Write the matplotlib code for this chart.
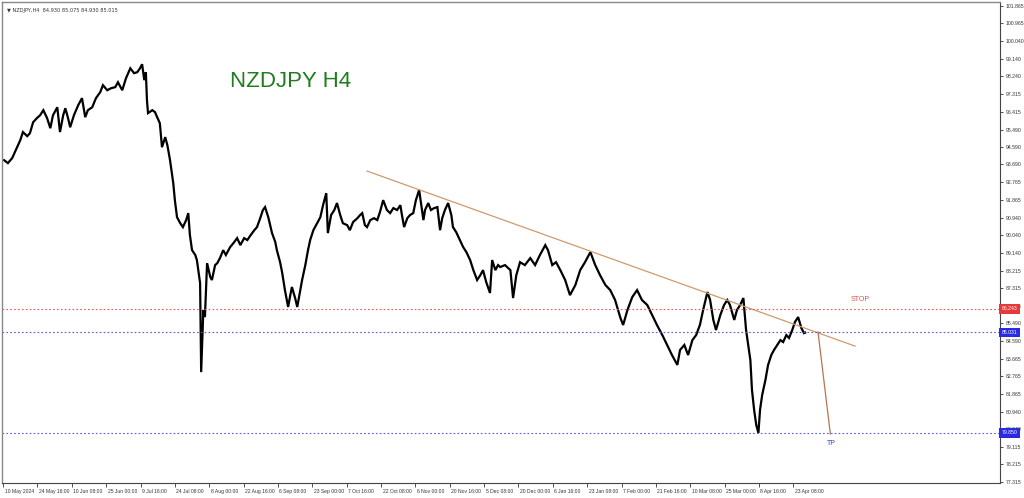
import matplotlib
matplotlib.use('Agg')
import matplotlib.pyplot as plt
import matplotlib.transforms as mtransforms

plt.rcParams['font.family'] = ['Liberation Sans', 'DejaVu Sans']

# H4 bar index (0 = 10 May 2024 00:00) and price
bars = [2, 9, 17, 26, 32, 37, 45, 50, 56, 63, 69, 75, 82, 88, 93, 101, 106, 112, 116, 121,
        125, 132, 140, 147, 153, 158, 166, 173, 181, 186, 194, 201, 209, 214, 222, 229, 237, 244, 250, 255,
        259, 263, 266, 268, 270, 278, 283, 287, 292, 296, 302, 306, 311, 317, 320, 324, 330, 335, 341, 345,
        348, 352, 358, 361, 365, 367, 369, 373, 376, 380, 386, 389, 395, 399, 404, 410, 415, 423, 429, 436,
        442, 449, 455, 460, 468, 473, 479, 484, 488, 494, 501, 507, 510, 516, 520, 525, 531, 535, 538, 544,
        548, 553, 557, 563, 568, 572, 578, 583, 591, 596, 602, 605, 611, 617, 622, 628, 633, 641, 646, 652,
        660, 665, 669, 674, 678, 684, 691, 697, 702, 708, 715, 721, 727, 734, 740, 743, 747, 753, 758, 764,
        769, 775, 779, 783, 786, 792, 797, 803, 809, 814, 818, 823, 829, 835, 838, 844, 851, 857, 863, 870,
        876, 883, 889, 894, 900, 907, 911, 917, 922, 926, 935, 945, 950, 956, 963, 972, 982, 991, 1000, 1010,
        1015, 1023, 1030, 1038, 1047, 1056, 1066, 1075, 1084, 1094, 1103, 1112, 1122, 1131, 1140, 1150, 1155, 1163, 1172, 1181,
        1190, 1200, 1209, 1218, 1228, 1237, 1246, 1256, 1261, 1269, 1276, 1284, 1291, 1298, 1304, 1312, 1317, 1323, 1328, 1336,
        1343, 1349, 1354, 1362, 1367, 1373, 1379, 1384, 1388, 1392, 1395, 1399, 1403, 1407, 1410, 1414, 1420, 1425, 1431, 1436,
        1442, 1448, 1453, 1459, 1464, 1470, 1475, 1481, 1487, 1492, 1494]
price = [93.91, 93.76, 94.02, 94.58, 94.94, 95.36, 95.15, 95.30, 95.87, 96.08, 96.23, 96.49, 96.08, 95.56, 96.23, 96.64, 95.36, 96.23, 96.59, 96.08,
         95.61, 96.23, 96.75, 97.11, 96.13, 96.49, 96.64, 97.11, 97.42, 97.78, 97.52, 97.62, 97.68, 97.93, 97.52, 98.14, 98.65, 98.40, 98.45, 98.65,
         98.86, 98.04, 98.45, 97.01, 96.34, 96.49, 96.39, 96.13, 95.82, 94.58, 95.10, 94.69, 93.91, 92.73, 91.85, 90.97, 90.66, 90.46, 90.82, 91.18,
         90.05, 89.27, 89.02, 88.76, 87.98, 87.57, 82.98, 86.18, 85.82, 88.60, 87.88, 87.73, 88.50, 88.60, 88.86, 89.27, 89.02, 89.43, 89.63, 89.89,
         89.53, 89.89, 89.79, 90.00, 90.30, 90.46, 90.92, 91.34, 91.49, 90.97, 90.15, 89.69, 89.27, 88.65, 88.09, 87.21, 86.34, 86.95, 87.37, 86.80,
         86.34, 87.11, 87.73, 88.50, 89.27, 89.79, 90.30, 90.56, 90.97, 91.59, 92.21, 90.15, 91.08, 91.34, 91.70, 91.08, 90.66, 90.56, 90.30, 90.72,
         90.92, 91.08, 91.18, 90.56, 90.46, 90.82, 90.92, 90.82, 91.23, 91.85, 91.34, 91.18, 91.44, 91.34, 91.59, 91.08, 90.46, 90.92, 91.08, 91.18,
         91.85, 92.37, 91.59, 90.82, 91.34, 91.70, 91.34, 91.44, 91.49, 90.30, 90.92, 91.34, 91.70, 91.08, 90.46, 90.20, 89.79, 89.43, 89.17, 88.76,
         88.24, 87.73, 87.98, 88.24, 87.62, 87.06, 88.76, 88.24, 88.50, 88.40, 88.50, 88.24, 86.80, 87.98, 88.65, 88.50, 88.86, 88.50, 89.02, 89.53,
         89.27, 88.50, 88.65, 88.24, 87.73, 86.95, 87.47, 88.24, 88.65, 89.17, 88.50, 87.98, 87.47, 87.21, 86.70, 85.77, 85.41, 86.18, 86.85, 87.21,
         86.70, 86.44, 85.92, 85.41, 84.89, 84.38, 83.86, 83.35, 84.12, 84.38, 83.86, 84.63, 84.89, 85.41, 86.18, 87.11, 86.70, 85.67, 85.15, 85.92,
         86.44, 86.70, 86.44, 85.67, 86.18, 86.44, 86.80, 85.15, 84.38, 83.60, 82.06, 81.03, 80.25, 79.84, 81.03, 81.80, 82.57, 83.35, 83.86, 84.12,
         84.38, 84.63, 84.53, 84.89, 84.74, 85.15, 85.56, 85.82, 85.25, 84.99, 85.015]

# price axis levels
y_ticks = [101.865, 100.965, 100.040, 99.140, 98.240, 97.315, 96.415, 95.490, 94.590, 93.690,
           92.765, 91.865, 90.940, 90.040, 89.140, 88.215, 87.315, 86.415, 85.490, 84.590,
           83.665, 82.765, 81.865, 80.940, 80.040, 79.115, 78.215, 77.315]
stop_level = 86.243
entry_level = 85.031
tp_level = 79.850

# trend line and projected move (bar, price)
trend_bars = [678, 1587]
trend_prices = [93.35, 84.32]
move_bars = [1518, 1541]
move_prices = [85.05, 79.79]

time_labels = ['10 May 2024', '24 May 16:00', '10 Jun 08:00', '25 Jun 00:00', '9 Jul 16:00',
               '24 Jul 08:00', '8 Aug 00:00', '22 Aug 16:00', '6 Sep 08:00', '23 Sep 00:00',
               '7 Oct 16:00', '22 Oct 08:00', '6 Nov 00:00', '20 Nov 16:00', '5 Dec 08:00',
               '20 Dec 00:00', '6 Jan 16:00', '23 Jan 08:00', '7 Feb 00:00', '21 Feb 16:00',
               '10 Mar 08:00', '25 Mar 00:00', '8 Apr 16:00', '23 Apr 08:00']
bars_per_label = 64

fig = plt.figure(figsize=(10.24, 4.98), dpi=100)
fig.patch.set_facecolor('white')
ax = fig.add_axes([2 / 1024, 15 / 498, 998 / 1024, 481 / 498])

ax.plot(bars, price, color='black', lw=1.6, solid_joinstyle='miter')

ax.plot(trend_bars, trend_prices, color='#cf9a6c', lw=0.9)
ax.plot(move_bars, move_prices, color='#b87450', lw=0.9)

ax.axhline(stop_level, color='#e05a5a', lw=0.8, ls=(0, (1.5, 2)))
ax.axhline(entry_level, color='#5a5ae0', lw=0.8, ls=(0, (1.5, 2)))
ax.axhline(tp_level, color='#5a5ae0', lw=0.8, ls=(0, (1.5, 2)))

ax.set_xlim(-2, 1857)
ax.set_ylim(77.26, 102.07)

ax.yaxis.tick_right()
ax.set_yticks(y_ticks)
ax.set_yticklabels(['%.3f' % v for v in y_ticks])
ax.tick_params(axis='y', direction='out', length=2.5, width=0.6, pad=1.5,
               labelsize=3.7, colors='#333333')

ax.set_xticks([i * bars_per_label for i in range(len(time_labels))])
ax.set_xticklabels(time_labels)
ax.tick_params(axis='x', direction='out', length=3, width=0.6, pad=1.5,
               labelsize=3.6, colors='#333333')
offset = mtransforms.ScaledTranslation(1.5 / 100, 0, fig.dpi_scale_trans)
for lbl in ax.get_xticklabels():
    lbl.set_horizontalalignment('left')
    lbl.set_transform(lbl.get_transform() + offset)

for side in ['left', 'top']:
    ax.spines[side].set_color('#888888')
    ax.spines[side].set_linewidth(1.0)
for side in ['right', 'bottom']:
    ax.spines[side].set_color('#444444')
    ax.spines[side].set_linewidth(0.8)

# level labels on the price scale
trans = mtransforms.blended_transform_factory(ax.transAxes, ax.transData)
for lvl, col in [(stop_level, '#e8383a'), (entry_level, '#2a2ae0'), (tp_level, '#2a2ae0')]:
    ax.text(1.0015, lvl, '%.3f' % lvl, transform=trans, fontsize=3.7, color='white',
            va='center', ha='left', clip_on=False, zorder=5,
            bbox=dict(boxstyle='square,pad=0.45', fc=col, ec='none'))

ax.text(1597, 86.72, 'STOP', color='#e05050', fontsize=5, ha='center', va='center')
ax.text(1543, 79.3, 'TP', color='#3a3ad0', fontsize=5, ha='center', va='center')

ax.text(0.228, 0.835, 'NZDJPY H4', transform=ax.transAxes, color='#1f7d1f',
        fontsize=16, ha='left', va='center')

ax.text(0.005, 0.988, '\u25bc NZDJPY,H4  84.930 85.075 84.930 85.015', transform=ax.transAxes,
        fontsize=3.6, color='#333333', ha='left', va='top', family=['DejaVu Sans'])

plt.savefig('out.png', dpi=100, facecolor='white')
plt.close('all')
